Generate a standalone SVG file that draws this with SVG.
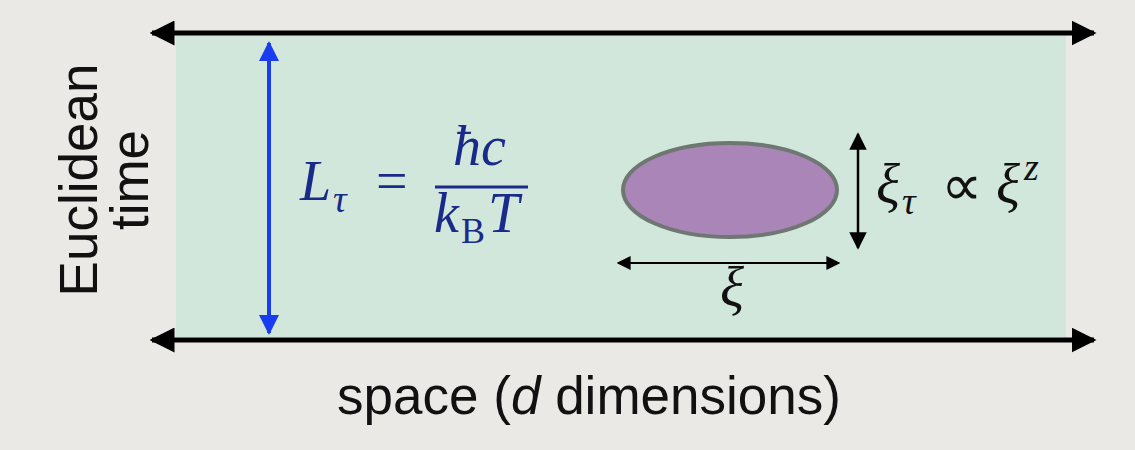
<svg xmlns="http://www.w3.org/2000/svg" width="1135" height="450" viewBox="0 0 1135 450">
<defs>
<marker id="ab" viewBox="0 0 10 10" refX="9" refY="5" markerWidth="5" markerHeight="5" orient="auto-start-reverse" markerUnits="strokeWidth"><path d="M0,0 L10,5 L0,10 Z" fill="#000"/></marker>
<marker id="abl" viewBox="0 0 10 10" refX="9" refY="5" markerWidth="5" markerHeight="5" orient="auto-start-reverse" markerUnits="strokeWidth"><path d="M0,0 L10,5 L0,10 Z" fill="#1a3cf0"/></marker>
<marker id="as" viewBox="0 0 10 10" refX="9" refY="5" markerWidth="7" markerHeight="7" orient="auto-start-reverse" markerUnits="strokeWidth"><path d="M0,0 L10,5 L0,10 Z" fill="#000"/></marker>
</defs>
<style>
.lbl{font-family:"Liberation Sans",Arial,sans-serif;font-size:53px;fill:#111}
.m{font-family:"Liberation Serif","Times New Roman",serif;font-style:italic;font-size:56px}
.s{font-family:"Liberation Serif","Times New Roman",serif;font-style:italic;font-size:38px}
.mr{font-family:"Liberation Serif","Times New Roman",serif;font-size:56px}
.sr{font-family:"Liberation Serif","Times New Roman",serif;font-size:36px}
</style>
<rect width="1135" height="450" fill="#ebe9e5"/>
<g id="region"><rect x="176" y="35" width="890" height="302" fill="#d2e7dc"/></g>
<g id="connectors">
<line x1="152" y1="33" x2="1094" y2="33" stroke="#000" stroke-width="5" marker-start="url(#ab)" marker-end="url(#ab)"/>
<line x1="152" y1="340" x2="1094" y2="340" stroke="#000" stroke-width="5" marker-start="url(#ab)" marker-end="url(#ab)"/>
<line x1="269" y1="43" x2="269" y2="333" stroke="#1a3cf0" stroke-width="4" marker-start="url(#abl)" marker-end="url(#abl)"/>
<line x1="618" y1="263" x2="839" y2="263" stroke="#000" stroke-width="2" marker-start="url(#as)" marker-end="url(#as)"/>
<line x1="858" y1="134" x2="858" y2="248" stroke="#000" stroke-width="2.5" marker-start="url(#as)" marker-end="url(#as)"/>
</g>
<g id="blob"><ellipse cx="730" cy="190" rx="107" ry="47" fill="#a985b8" stroke="#6e7772" stroke-width="4"/></g>
<g id="formula" fill="#1a2a8a">
<text class="m" x="300" y="200">L</text>
<text class="s" x="333" y="212">τ</text>
<text class="mr" x="376" y="200">=</text>
<text class="m" x="453" y="165">ħc</text>
<line x1="435" y1="187" x2="528" y2="187" stroke="#1a2a8a" stroke-width="3"/>
<text class="m" x="434" y="232">k</text>
<text class="sr" x="461" y="243">B</text>
<text class="m" x="488" y="232">T</text>
</g>
<g id="xi-label" fill="#111"><text class="m" x="720" y="306">ξ</text></g>
<g id="xitau-label" fill="#111">
<text class="m" x="876" y="203">ξ</text>
<text class="s" x="902" y="214">τ</text>
<text x="941" y="205" font-family="DejaVu Sans,sans-serif" font-weight="200" font-size="58">∝</text>
<text class="m" x="996" y="203">ξ</text>
<text class="s" x="1024" y="180">z</text>
</g>
<g id="axis-labels">
<text class="lbl" transform="translate(97,180) rotate(-90)" text-anchor="middle">Euclidean</text>
<text class="lbl" transform="translate(148,180) rotate(-90)" text-anchor="middle">time</text>
<text class="lbl" x="589" y="414" text-anchor="middle">space (<tspan font-style="italic">d</tspan> dimensions)</text>
</g>
</svg>
